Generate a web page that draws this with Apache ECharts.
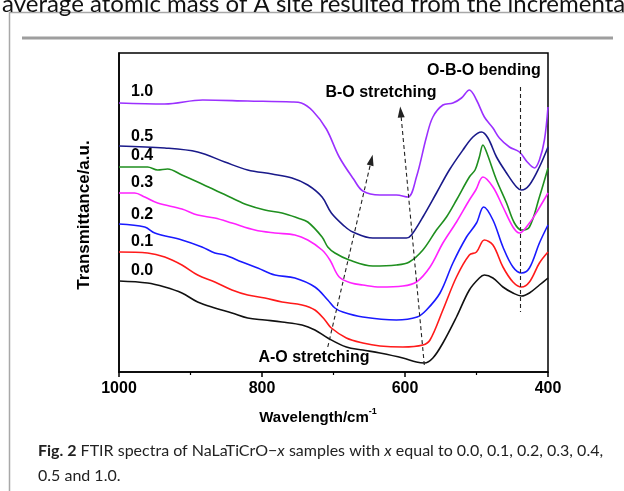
<!DOCTYPE html>
<html>
<head>
<meta charset="utf-8">
<script src="https://cdn.jsdelivr.net/npm/echarts@6/dist/echarts.min.js"></script>
<style>
html,body{margin:0;padding:0;background:#fff;}
#c{width:624px;height:491px;}
</style>
</head>
<body>
<div id="c"></div>
<script>
// Wavenumber (cm-1) , transmittance (a.u., offset stacked)
var s10 = [[1000,269],[936,268],[883,272],[820,271],[758,270],[745,269],[729,261],[710,243],[692,215],[672,193],[659,181],[635,177],[612,177],[596,175],[584,195],[570,235],[561,255],[547,267],[533,269],[521,274],[510,282],[500,272],[489,255],[477,244],[468,234],[454,225],[440,220],[429,210],[419,204],[412,212],[405,232],[400,265]];
var s05 = [[1000,226],[936,224],[890,220],[852,210],[820,202],[786,198],[758,194],[736,187],[716,175],[703,159],[685,146],[673,140],[645,134],[621,134],[598,134],[591,137],[575,155],[556,179],[538,202],[519,222],[505,235],[493,240],[484,234],[472,215],[458,199],[444,185],[437,182],[426,187],[412,205],[400,225]];
var s04 = [[1000,205],[960,205],[946,202],[932,203],[912,197],[890,190],[866,182],[842,174],[820,167],[796,162],[772,159],[750,154],[736,150],[716,135],[708,125],[698,119],[678,112],[645,106],[612,107],[594,110],[575,122],[556,142],[542,155],[528,172],[510,195],[502,202],[496,215],[491,227],[486,220],[472,192],[458,169],[447,149],[437,142],[426,145],[412,175],[400,204]];
var s03 = [[1000,179],[978,179],[964,175],[946,169],[912,163],[890,157],[866,154],[842,149],[810,142],[782,139],[754,137],[736,132],[716,122],[705,112],[692,95],[675,89],[659,87],[635,85],[603,86],[584,90],[565,105],[547,129],[528,150],[510,172],[501,182],[491,195],[477,185],[463,165],[449,145],[440,139],[426,149],[414,162],[400,179]];
var s02 = [[1000,148],[964,145],[950,139],[912,132],[884,125],[866,119],[852,117],[828,110],[806,104],[782,97],[754,94],[726,85],[708,72],[698,64],[687,60],[659,55],[612,52],[583,55],[570,62],[551,79],[533,109],[514,135],[500,149],[490,165],[477,152],[463,125],[449,105],[437,99],[426,104],[412,129],[400,147]];
var s01 = [[1000,120],[960,119],[936,115],[912,107],[890,97],[866,90],[842,82],[820,77],[796,74],[772,70],[744,67],[726,62],[712,52],[703,44],[682,34],[659,29],[635,26],[603,25],[575,27],[565,32],[547,62],[528,95],[510,117],[500,120],[489,132],[477,127],[463,105],[449,90],[437,85],[426,90],[412,109],[400,120]];
var s00 = [[1000,91],[960,89],[936,85],[912,79],[890,70],[866,64],[842,59],[820,54],[796,52],[772,50],[744,47],[726,42],[708,34],[682,25],[659,22],[635,19],[603,14],[584,10],[573,9],[561,14],[547,29],[528,55],[510,82],[496,94],[489,97],[477,94],[463,85],[449,79],[437,76],[426,79],[412,87],[400,94]];

var seriesNames = ['1.0','0.5','0.4','0.3','0.2','0.1','0.0'];
var seriesData = [s10,s05,s04,s03,s02,s01,s00];
var seriesColors = ['#9b30ff','#1a1a8a','#1f8f1f','#ff22ff','#1a1aff','#ff1a1a','#111111'];
var xTicks = {min:400, max:1000, interval:200};

// annotation guides (data coordinates)
var bendingLine = [[439,285],[439,60]];
var arrowAO1 = [[708,25],[647,212]];
var arrowAO2 = [[573,7],[606,260]];

var FONT = '"Liberation Sans", Arial, sans-serif';
var chart = echarts.init(document.getElementById('c'), null, {renderer:'canvas'});

var series = seriesData.map(function(d,i){
  var s = {
    name: seriesNames[i], type:'line', data:d, showSymbol:false, smooth:0.35,
    lineStyle:{color:seriesColors[i], width:1.6}, itemStyle:{color:seriesColors[i]},
    silent:true, animation:false, z:3
  };
  if(i===6){
    s.markLine = {
      silent:true, animation:false, symbolSize:[7,11],
      lineStyle:{color:'#222', type:[4,3], width:1.1},
      label:{show:false},
      data:[
        [{coord:bendingLine[0], symbol:'none'},{coord:bendingLine[1], symbol:'none'}],
        [{coord:arrowAO1[0], symbol:'none'},{coord:arrowAO1[1], symbol:'triangle'}],
        [{coord:arrowAO2[0], symbol:'none'},{coord:arrowAO2[1], symbol:'triangle'}]
      ]
    };
  }
  return s;
});

function label(txt, x, y){
  return {type:'text', x:x, y:y, z:10, style:{text:txt, font:'bold 16px '+FONT, fill:'#000', textAlign:'left', textVerticalAlign:'middle'}};
}

var graphics = [
  {type:'rect', shape:{x:9.5,y:12.5,width:700,height:600}, style:{fill:'none', stroke:'#a8a8a8', lineWidth:1.5}, z:0},
  {type:'line', shape:{x1:22,y1:38,x2:613,y2:38}, style:{stroke:'#9e9e9e', lineWidth:3}, z:0},
  {type:'text', x:2, y:16, style:{text:'average atomic mass of A site resulted from the incremental', font:'24px Lato, sans-serif', fill:'#111', textAlign:'left', textVerticalAlign:'bottom'}},
  label('1.0',131,92), label('0.5',131,137), label('0.4',131,156), label('0.3',131,183),
  label('0.2',131,215), label('0.1',131,242), label('0.0',131,271),
  {type:'text', x:381, y:93, z:10, style:{text:'B-O stretching', font:'bold 16px '+FONT, fill:'#000', textAlign:'center', textVerticalAlign:'middle'}},
  {type:'text', x:484, y:71, z:10, style:{text:'O-B-O bending', font:'bold 16px '+FONT, fill:'#000', textAlign:'center', textVerticalAlign:'middle'}},
  {type:'text', x:314, y:358, z:10, style:{text:'A-O stretching', font:'bold 16px '+FONT, fill:'#000', textAlign:'center', textVerticalAlign:'middle'}},
  {type:'text', x:84, y:215, rotation:Math.PI/2, z:10, style:{text:'Transmittance/a.u.', font:'bold 17px '+FONT, fill:'#000', textAlign:'center', textVerticalAlign:'middle'}},
  {type:'text', x:318, y:416, z:10, style:{text:'{a|Wavelength/cm}{s|-1}', textAlign:'center', textVerticalAlign:'middle',
     rich:{a:{fontFamily:FONT, fontWeight:'bold', fontSize:15, fill:'#000', lineHeight:18, verticalAlign:'bottom'},
           s:{fontFamily:FONT, fontWeight:'bold', fontSize:9, fill:'#000', lineHeight:18, verticalAlign:'top', padding:[0,0,8,0]}}}},
  {type:'text', x:38, y:451, style:{text:'{b|Fig. 2} FTIR spectra of NaLaTiCrO\u2212{i|x} samples with {i|x} equal to 0.0, 0.1, 0.2, 0.3, 0.4,',
     font:'16px Lato, sans-serif', fill:'#222', textAlign:'left', textVerticalAlign:'middle',
     rich:{b:{fontFamily:'Lato, sans-serif', fontWeight:'bold', fontSize:16, fill:'#222'}, i:{fontFamily:'Lato, sans-serif', fontStyle:'italic', fontSize:16, fill:'#222'}}}},
  {type:'text', x:38, y:476, style:{text:'0.5 and 1.0.', font:'16px Lato, sans-serif', fill:'#222', textAlign:'left', textVerticalAlign:'middle'}}
];

chart.setOption({
  animation:false,
  backgroundColor:'#fff',
  grid:{left:119, top:53, right:76, bottom:119, show:true, borderColor:'#000', borderWidth:1.5, backgroundColor:'transparent'},
  xAxis:{type:'value', inverse:true, min:xTicks.min, max:xTicks.max, interval:xTicks.interval,
    axisLine:{show:true, onZero:false, lineStyle:{color:'#000', width:1.5}},
    axisTick:{show:true, inside:false, length:5, lineStyle:{color:'#000', width:1.5}},
    minorTick:{show:true, splitNumber:2, length:3, lineStyle:{color:'#000', width:1.2}},
    splitLine:{show:false},
    axisLabel:{color:'#000', fontFamily:FONT, fontWeight:'bold', fontSize:16, margin:9, formatter:function(v){return String(v);}}},
  yAxis:{type:'value', min:0, max:319, axisLine:{show:true, lineStyle:{color:'#000', width:1.5}},
    axisTick:{show:false}, axisLabel:{show:false}, splitLine:{show:false}},
  series:series,
  graphic:graphics
});
</script>
</body>
</html>
